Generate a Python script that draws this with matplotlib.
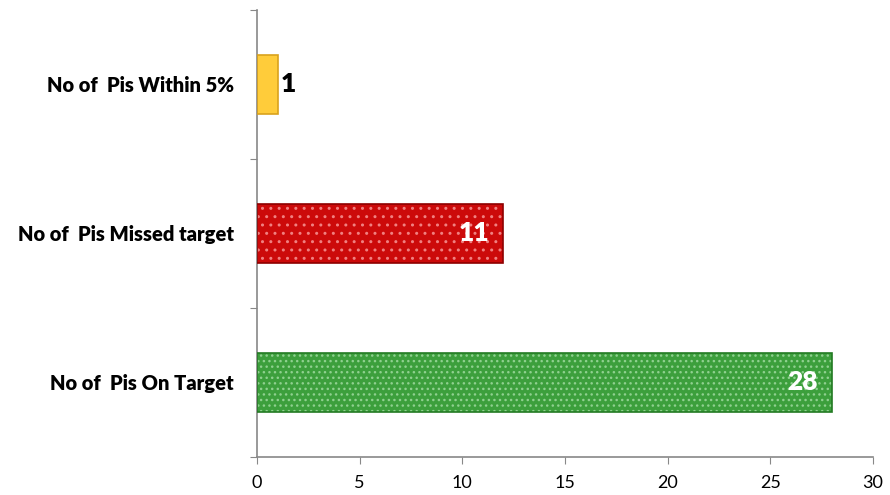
import matplotlib
matplotlib.use('Agg')
import matplotlib.pyplot as plt
import numpy as np

plt.rcParams['font.family'] = ['Lato', 'DejaVu Sans']

categories = ['No of  Pis On Target', 'No of  Pis Missed target', 'No of  Pis Within 5%']
values = [28, 12, 1]
labels = ['28', '11', '1']
face_colors = ['#3c9f3c', '#cc0a0a', '#ffcc3a']
hatch_colors = ['#8fd08f', '#f08080', '#ffcc3a']
hatches = ['...', '..', '']
edge_colors = ['#237a23', '#8e0000', '#d9a21c']
label_colors = ['white', 'white', 'black']

fig = plt.figure(figsize=(8.9, 4.95), dpi=100)
ax = fig.add_axes([0.2888, 0.0768, 0.6921, 0.9030])

y = np.arange(len(categories))
bars = ax.barh(y, values, height=0.4, color=face_colors, linewidth=0, zorder=2)
for b, hc, h in zip(bars, hatch_colors, hatches):
    b.set_edgecolor(hc)
    b.set_hatch(h)
# outlines
ax.barh(y, values, height=0.4, fill=False, edgecolor=edge_colors, linewidth=1.2, zorder=3)

for i, (v, lab, lc) in enumerate(zip(values, labels, label_colors)):
    if lc == 'black':
        ax.text(v + 0.15, i, lab, ha='left', va='center', fontsize=19,
                fontweight='heavy', color=lc, zorder=4)
    else:
        ax.text(v - 0.7, i, lab, ha='right', va='center', fontsize=19,
                fontweight='heavy', color=lc, zorder=4)

ax.set_xlim(0, 30)
ax.set_ylim(-0.5, 2.5)
ax.set_xticks(np.arange(0, 31, 5))
ax.set_yticks(np.arange(-0.5, 2.6, 1.0))
ax.set_yticklabels([])
ax.set_yticks(y, minor=True)
ax.set_yticklabels(categories, minor=True, fontsize=14.5, fontweight='heavy')
ax.tick_params(axis='y', which='minor', length=0, pad=16.5)
ax.tick_params(axis='y', which='major', length=5, color='#888888', direction='out')
ax.tick_params(axis='x', length=5, color='#888888', labelsize=13, pad=8)

for s in ['top', 'right']:
    ax.spines[s].set_visible(False)
for s in ['left', 'bottom']:
    ax.spines[s].set_color('#888888')
    ax.spines[s].set_linewidth(1.2)

fig.savefig('out.png', dpi=100)
